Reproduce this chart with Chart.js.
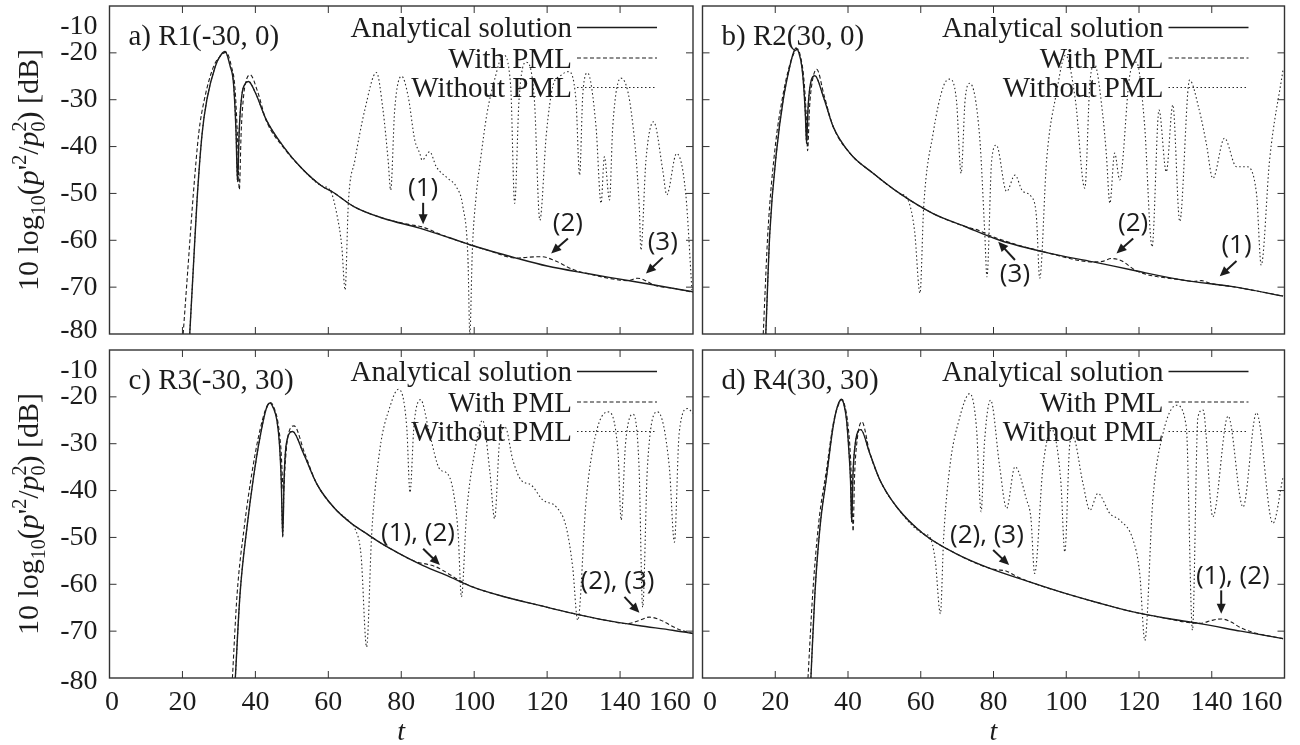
<!DOCTYPE html>
<html>
<head>
<meta charset="utf-8">
<script src="https://cdn.jsdelivr.net/npm/chart.js@4.4.0/dist/chart.umd.min.js"></script>
<style>
  html, body { margin: 0; padding: 0; background: #fff; }
  #wrap { position: relative; width: 1300px; height: 745px; background: #fff; }
  #wrap canvas { position: absolute; }
</style>
</head>
<body>
<div id="wrap">
  <canvas id="pa" width="698" height="342" style="left:0;top:0"></canvas>
  <canvas id="pb" width="602" height="342" style="left:698px;top:0"></canvas>
  <canvas id="pc" width="698" height="403" style="left:0;top:342px"></canvas>
  <canvas id="pd" width="602" height="403" style="left:698px;top:342px"></canvas>
</div>
<script>
// sound pressure level at four receivers: analytical vs. FDTD with / without PML

const xTicks = [0, 20, 40, 60, 80, 100, 120, 140, 160];
const yTicks = [-10, -20, -30, -40, -50, -60, -70, -80];
const titles = ['a) R1(-30, 0)', 'b) R2(30, 0)', 'c) R3(-30, 30)', 'd) R4(30, 30)'];
const seriesNames = ['Analytical solution', 'With PML', 'Without PML'];

// --- R1(-30, 0)
const r1AnaT = [22, 23, 24, 25.4, 26.7, 29, 30.5, 31.7, 33.1, 34, 34.7, 35.1, 35.6, 36.3, 37.2, 38.1, 40, 43, 47.7, 52.3, 58, 61.4, 67, 75, 85, 93, 99, 112, 120, 131, 140, 149, 160];
const r1AnaV = [-80, -65.7, -51.5, -37.2, -30, -22.9, -20.5, -19.7, -22.9, -26.5, -37, -47.5, -36, -29, -26.6, -26.1, -28.5, -34.3, -40, -44.3, -48.3, -49.8, -52.8, -55.3, -57.4, -59.4, -61, -63.9, -65.5, -67.1, -68.3, -69.5, -71];
const r1PmlT = [20.2, 21.5, 23, 24.5, 26, 28.5, 30.5, 32, 33.4, 34.4, 35.1, 35.6, 36.1, 36.8, 37.6, 38.6, 40.5, 43, 47.7, 52.3, 58, 61.4, 67, 75, 82, 86, 90, 93, 99, 104, 111.5, 115, 118.4, 122, 127, 131, 140, 142, 144.8, 147.5, 149, 155, 160];
const r1PmlV = [-80, -66, -50, -37, -30, -23, -20.6, -19.9, -22.8, -27.5, -38, -49.2, -37, -29, -25.6, -24.7, -28, -34.5, -40.2, -44.3, -48.3, -49.8, -52.8, -55.3, -56.6, -57.2, -58.5, -59.4, -61, -62.2, -63.8, -63.6, -63.5, -64.3, -66.2, -67.1, -68.5, -68.6, -68.1, -68.8, -69.5, -70.3, -71.1];
const r1NoT = [22, 23, 24, 25.4, 26.7, 29, 30.5, 31.7, 33.1, 34, 34.7, 35.1, 35.6, 36.3, 37.2, 38.1, 40, 43, 47.7, 52.3, 58, 60.5, 62.3, 63.7, 64.6, 65.5, 67.3, 70, 73.2, 75, 76.4, 77.1, 78.2, 80.1, 81.9, 83.7, 85.1, 85.7, 87.8, 89.6, 92.8, 95.1, 96.9, 98.3, 98.8, 99.5, 100.6, 101.7, 103.5, 105.5, 108, 110, 111.1, 112.3, 114.2, 116.5, 118, 119.8, 121.6, 123.5, 125.8, 127.9, 128.9, 129.8, 131.1, 133.4, 134.8, 135.7, 137.1, 138, 140.2, 143, 145.3, 145.7, 147.1, 149.2, 151.7, 152.8, 155.5, 158, 159.7];
const r1NoV = [-80, -65.7, -51.5, -37.2, -30, -22.9, -20.5, -19.7, -22.9, -26.5, -37, -47.5, -36, -29, -26.6, -26.1, -28.5, -34.3, -40, -44.3, -48.3, -49.3, -54.3, -61.4, -70.6, -52, -42.9, -32.2, -24.2, -32.2, -42.9, -49.3, -32.2, -25, -29.3, -38.6, -41.5, -42.9, -41.1, -44.3, -46.8, -48.6, -52.8, -64.2, -80, -62, -50, -43, -33, -26, -20.5, -27, -52.1, -30, -22, -30, -55.7, -37.2, -27, -25, -24, -30, -46.1, -28.6, -24.3, -35.7, -52.1, -42.2, -51.4, -35.7, -25.4, -32.2, -53.5, -62.1, -42.9, -34.7, -45, -50.3, -41.5, -50, -70.6];

// --- R2(30, 0)
const r2AnaT = [17.4, 18.5, 20.4, 22.2, 24, 25, 25.7, 26.5, 27.3, 27.9, 28.3, 28.6, 29, 29.6, 30.9, 33.2, 35.9, 40.5, 46.9, 54.2, 63.4, 72, 81.7, 95.5, 107.4, 118.4, 132.1, 145.8, 159.6];
const r2AnaV = [-80, -58.5, -40.7, -30, -22.9, -20, -19, -20, -22.9, -28, -33.5, -39.3, -32, -27, -24.9, -29.3, -35.7, -41.4, -45.7, -50, -54.3, -57, -60, -62.8, -64.6, -66.4, -68.5, -69.9, -71.9];
const r2PmlT = [16.7, 18, 20, 22, 24, 25.5, 26.2, 27, 27.8, 28.5, 28.9, 29.4, 30, 31.4, 33.4, 36, 40.5, 46.9, 54.2, 63.4, 72, 76, 80, 95.5, 107.4, 110, 112.4, 115, 119.5, 132.1, 135, 137.2, 139.5, 145.8, 159.6];
const r2PmlV = [-80, -58, -40, -29.5, -22.5, -19.6, -19.2, -21, -25, -33, -40.9, -32, -27, -23.5, -29, -35.9, -41.4, -45.7, -50, -54.3, -57, -57.9, -59.3, -62.8, -64.6, -64.5, -63.9, -64.3, -66.6, -68.5, -68.8, -68.6, -69.2, -69.9, -71.9];
const r2NoT = [17.4, 18.5, 20.4, 22.2, 24, 25, 25.7, 26.5, 27.3, 27.9, 28.3, 28.6, 29, 29.6, 30.9, 33.2, 35.9, 40.5, 46.9, 54.2, 56.5, 58.3, 59.8, 60.8, 63.4, 66.2, 67.9, 69.8, 71.1, 72.2, 73.5, 76.2, 77.6, 78.2, 79.5, 80.8, 83.6, 85.9, 88, 90.4, 91.8, 92.7, 94.6, 97.3, 99.8, 102.5, 105.1, 106.5, 107.8, 110, 111, 112, 113.3, 114.7, 117.4, 119.3, 121.5, 123.6, 125.5, 127.5, 129.3, 131.2, 133.9, 136.5, 138.5, 140.3, 143.5, 146.8, 149.5, 152.3, 153.6, 155.9, 159.6];
const r2NoV = [-80, -58.5, -40.7, -30, -22.9, -20, -19, -20, -22.9, -28, -33.5, -39.3, -32, -27, -24.9, -29.3, -35.7, -41.4, -45.7, -50, -51.4, -58, -71.3, -53, -37.2, -27.2, -25.6, -30, -45.7, -30, -26.5, -38, -58.5, -67.8, -42.9, -39.7, -49.6, -46.1, -49.5, -50.7, -55, -68.1, -42.9, -28.6, -20.5, -30, -48.9, -26.5, -22.5, -33, -41.4, -52.1, -41.4, -47.1, -25.1, -22, -35, -61.4, -32.2, -45.4, -31.1, -56, -25.8, -32, -39.3, -46.8, -38.2, -44.3, -44.3, -50, -65.3, -42.9, -23.6];

// --- R3(-30, 30)
const r3AnaT = [34.5, 35.8, 37.7, 39.5, 41.3, 43, 44, 45, 45.9, 46.6, 47.1, 47.5, 47.9, 48.5, 50.2, 53.2, 56.8, 61.4, 66, 70.5, 75, 79.6, 86, 93.3, 99.7, 108, 117.9, 127, 136.2, 145, 154.4, 160];
const r3AnaV = [-80, -62, -47.8, -37.1, -28.5, -22.5, -21.3, -22.5, -25, -30, -38, -49.9, -37, -30, -27.4, -32.1, -38.5, -43.5, -46.8, -49.2, -51.5, -53.5, -56, -58.4, -60.6, -62.6, -64.5, -66.2, -67.7, -68.8, -69.8, -70.5];
const r3PmlT = [33.7, 35, 37, 39, 41, 43, 44.2, 45.2, 46.2, 47, 47.7, 48.2, 48.8, 50.6, 53.5, 56.8, 61.4, 66, 70.5, 75, 79.6, 84, 87, 89.6, 92, 96, 99.7, 108, 117.9, 127, 136.2, 142, 145, 148, 151, 156, 160];
const r3PmlV = [-80, -62, -47.5, -36.5, -28, -22.3, -21.2, -22.5, -25.5, -31, -40, -34, -29, -26.2, -32, -38.5, -43.5, -46.8, -49.2, -51.5, -53.5, -55.2, -55.7, -56.3, -57.3, -59.2, -60.6, -62.6, -64.5, -66.2, -67.7, -68.4, -67.8, -67, -67.6, -69.6, -70.5];
const r3NoT = [34.5, 35.8, 37.7, 39.5, 41.3, 43, 44, 45, 45.9, 46.6, 47.1, 47.5, 47.9, 48.5, 50.2, 53.2, 56.8, 61.4, 66, 67.3, 69, 70.5, 71.9, 74.1, 76.9, 79.2, 81.5, 82.4, 83.5, 85.3, 87.8, 90.6, 92.4, 94.2, 95.6, 96.5, 97.9, 100.2, 102.3, 104.3, 105.6, 107, 108.5, 110.6, 112.9, 115.6, 118.8, 122.5, 125.2, 127, 128.4, 130.7, 133.4, 136.6, 139.4, 140.3, 141.5, 143.5, 145.2, 146.2, 147.5, 150.3, 153.5, 154.9, 156.2, 158.5, 160];
const r3NoV = [-80, -62, -47.8, -37.1, -28.5, -22.5, -21.3, -22.5, -25, -30, -38, -49.9, -37, -30, -27.4, -32.1, -38.5, -43.5, -46.8, -48.1, -54, -73.4, -49.2, -31.4, -22.1, -18.4, -26.4, -40.4, -26, -20.6, -28, -35.5, -36.2, -39.9, -49.2, -62.7, -45, -31.5, -25, -36, -46, -29.2, -26.5, -33.5, -37.8, -38.8, -42, -43.5, -47.7, -56.3, -67.7, -42, -27.8, -23.2, -31.4, -46.3, -30, -23.7, -34.9, -64.9, -35, -23.2, -34.9, -51, -27.8, -22.5, -23.5];

// --- R4(30, 30)
const r4AnaT = [29.8, 30.9, 32.3, 34.1, 35.9, 37.2, 38.2, 39, 39.6, 40.2, 40.7, 41, 41.4, 42, 43.5, 46, 48.8, 53.4, 60.7, 69.8, 79, 90, 100, 109, 118.4, 127, 136.7, 148, 159.6];
const r4AnaV = [-80, -62, -47.8, -37.1, -26.4, -21.8, -20.5, -22, -25, -31, -38, -46.7, -36, -30, -27, -32.1, -37.8, -43.5, -49.2, -53.5, -56.6, -59.5, -62, -64, -65.9, -67.2, -68.4, -70, -71.6];
const r4PmlT = [29, 30.3, 32, 34, 36, 37.5, 38.4, 39.3, 40, 40.7, 41.1, 41.4, 41.8, 42.4, 43.8, 46, 48.8, 53.4, 60.7, 69.8, 79, 81, 83.6, 86, 90, 100, 109, 118.4, 127, 134, 137, 140, 142.6, 145, 148, 151, 159.6];
const r4PmlV = [-80, -62, -46.5, -36, -25.5, -21.5, -20.6, -22.5, -26, -33, -41, -48.7, -37, -30, -25.3, -32, -37.8, -43.5, -49.2, -53.5, -56.6, -56.9, -57.2, -58.2, -59.5, -62, -64, -65.9, -67.2, -68.2, -68.3, -67.7, -67.4, -67.9, -69.3, -70.2, -71.6];
const r4NoT = [29.8, 30.9, 32.3, 34.1, 35.9, 37.2, 38.2, 39, 39.6, 40.2, 40.7, 41, 41.4, 42, 43.5, 46, 48.8, 53.4, 60.7, 62.5, 64, 65.4, 66.3, 68, 70.5, 73.5, 75.3, 76.6, 77.5, 79.2, 81.7, 83.6, 85.9, 89.1, 90.3, 91.3, 93.6, 96, 98.5, 99.6, 101, 101.8, 104.6, 106.5, 108.7, 112, 114.7, 118.4, 120.2, 121.6, 123.8, 126.6, 130.3, 133, 134.7, 136.2, 137.6, 140.3, 144.5, 148.6, 152.3, 156.8, 159.6];
const r4NoV = [-80, -62, -47.8, -37.1, -26.4, -21.8, -20.5, -22, -25, -31, -38, -46.7, -36, -30, -27, -32.1, -37.8, -43.5, -49.2, -49.9, -55, -66.3, -50, -34.9, -25, -19.3, -26.4, -44.5, -30, -20.7, -34.9, -43.8, -34.9, -42, -46, -57.7, -34.9, -27, -38, -53.1, -29.9, -28.5, -38.5, -44.2, -40.6, -44.9, -46.3, -50.6, -57.7, -72, -42, -27.8, -21.8, -26.4, -69.8, -24.3, -22.8, -45.6, -24.1, -43.5, -23.4, -47, -37.1];

// numbered callouts (t, dB): label centre, arrow tail, arrow head
const r1Notes = ['(1)', '(2)', '(3)'];
const r1NoteAt = [[86, -48.9], [125.7, -56.4], [151.7, -60.5]];
const r1ArrowFrom = [[86, -52], [125.7, -59.6], [151.7, -63.7]];
const r1ArrowTo = [[86, -56.6], [121.1, -62.8], [147.1, -67.1]];
const r2Notes = ['(3)', '(2)', '(1)'];
const r2NoteAt = [[85.9, -67.4], [118.4, -56.4], [146.8, -61.2]];
const r2ArrowFrom = [[85.9, -64.2], [118.4, -59.6], [146.8, -64.4]];
const r2ArrowTo = [[81.3, -60.3], [113.8, -62.8], [142.2, -67.7]];
const r3Notes = ['(1), (2)', '(2), (3)'];
const r3NoteAt = [[84.6, -49.2], [139.3, -59.5]];
const r3ArrowFrom = [[86, -52.4], [141.2, -62.7]];
const r3ArrowTo = [[90.6, -55.9], [145.3, -66.1]];
const r4Notes = ['(2), (3)', '(1), (2)'];
const r4NoteAt = [[78.2, -49.7], [145.8, -58.4]];
const r4ArrowFrom = [[79.9, -52.7], [142.6, -61.3]];
const r4ArrowTo = [[84.3, -55.9], [142.6, -66.3]];

const SERIF = '"Liberation Serif", "Times New Roman", serif';
const SANS = '"Open Sans", "Noto Sans", sans-serif';
const INK = '#1c1c1c';

const styles = [
  { borderWidth: 1.4, borderDash: [] },
  { borderWidth: 1.1, borderDash: [4, 2.5] },
  { borderWidth: 1.1, borderDash: [1.5, 2.5] },
];

const pts = (T, V) => T.map((t, i) => ({ x: t, y: V[i] }));

function drawArrow(ctx, x0, y0, x1, y1) {
  const a = Math.atan2(y1 - y0, x1 - x0), L = 10, W = 4.5;
  ctx.beginPath();
  ctx.moveTo(x0, y0);
  ctx.lineTo(x1 - (L - 2) * Math.cos(a), y1 - (L - 2) * Math.sin(a));
  ctx.stroke();
  ctx.beginPath();
  ctx.moveTo(x1, y1);
  ctx.lineTo(x1 - L * Math.cos(a) + W * Math.sin(a), y1 - L * Math.sin(a) - W * Math.cos(a));
  ctx.lineTo(x1 - L * Math.cos(a) - W * Math.sin(a), y1 - L * Math.sin(a) + W * Math.cos(a));
  ctx.closePath();
  ctx.fill();
}

// 10 log10(p'^2/p0^2) [dB], rotated, built from pieces
function drawYTitle(ctx, bx, cy) {
  const big = '30px ' + SERIF, small = '20px ' + SERIF, it = 'italic 30px ' + SERIF;
  const parts = [
    { s: '10 log', f: big, dy: 0 },
    { s: '10', f: small, dy: 7 },
    { s: '(', f: big, dy: 0 },
    { s: 'p', f: it, dy: 0 },
    { s: "'", f: big, dy: 0 },
    { s: '2', f: small, dy: -12 },
    { s: '/', f: big, dy: 0 },
    { s: 'p', f: it, dy: 0 },
    { s: '0', f: small, dy: 7, hold: true },
    { s: '2', f: small, dy: -12 },
    { s: ') [dB]', f: big, dy: 0 },
  ];
  ctx.save();
  ctx.translate(bx, cy);
  ctx.rotate(-Math.PI / 2);
  let total = 0;
  parts.forEach(p => { ctx.font = p.f; if (!p.hold) total += ctx.measureText(p.s).width; });
  let x = -total / 2;
  ctx.textAlign = 'left';
  ctx.textBaseline = 'alphabetic';
  parts.forEach(p => {
    ctx.font = p.f;
    ctx.fillText(p.s, x, p.dy);
    if (!p.hold) x += ctx.measureText(p.s).width;
  });
  ctx.restore();
}

function framePlugin(p) {
  return {
    id: 'panelFrame',
    afterDatasetsDraw(chart) {
      const { ctx, chartArea: a, scales: { x, y } } = chart;
      ctx.save();
      ctx.strokeStyle = '#333';
      ctx.fillStyle = INK;
      ctx.setLineDash([]);

      // box + inward ticks on all four sides
      ctx.lineWidth = 1.4;
      ctx.strokeRect(a.left, a.top, a.right - a.left, a.bottom - a.top);
      ctx.lineWidth = 1;
      ctx.beginPath();
      xTicks.slice(1, -1).forEach(v => {
        const px = x.getPixelForValue(v);
        ctx.moveTo(px, a.bottom); ctx.lineTo(px, a.bottom - 7);
        ctx.moveTo(px, a.top); ctx.lineTo(px, a.top + 7);
      });
      yTicks.slice(1, -1).forEach(v => {
        const py = y.getPixelForValue(v);
        ctx.moveTo(a.left, py); ctx.lineTo(a.left + 7, py);
        ctx.moveTo(a.right, py); ctx.lineTo(a.right - 7, py);
      });
      ctx.stroke();

      // y tick labels + title (left column only)
      if (p.left) {
        ctx.font = '28px ' + SERIF;
        ctx.textAlign = 'right';
        ctx.textBaseline = 'middle';
        yTicks.forEach(v => {
          let nudge = 0;
          if (v === -10) nudge = 21;
          if (v === -80) nudge = p.bottom ? 4 : -3;
          ctx.fillText(String(v), a.left - 12, y.getPixelForValue(v) + nudge);
        });
        drawYTitle(ctx, 38, (a.top + a.bottom) / 2);
      }

      // x tick labels + title (bottom row only)
      if (p.bottom) {
        ctx.font = '28px ' + SERIF;
        ctx.textBaseline = 'alphabetic';
        xTicks.forEach(v => {
          if (v === 160) {
            ctx.textAlign = 'right';
            ctx.fillText(String(v), a.right - 2, a.bottom + 32);
          } else {
            ctx.textAlign = 'center';
            const shift = v === 0 ? (p.left ? 2.5 : 7.5) : 0;
            ctx.fillText(String(v), x.getPixelForValue(v) + shift, a.bottom + 32);
          }
        });
        ctx.font = 'italic 28px ' + SERIF;
        ctx.textAlign = 'center';
        ctx.fillText('t', x.getPixelForValue(80), a.bottom + 62);
      }

      // panel title
      ctx.font = '29px ' + SERIF;
      ctx.textAlign = 'left';
      ctx.textBaseline = 'alphabetic';
      ctx.fillText(p.title, a.left + 19, a.top + 39);

      // key: text right-aligned, line sample to its right
      const rows = [21.5, 52, 81.5];
      chart.data.datasets.forEach((ds, i) => {
        const ly = a.top + rows[i];
        ctx.font = '29px ' + SERIF;
        ctx.textAlign = 'right';
        ctx.fillText(ds.label, a.right - 121, ly + 9.5);
        ctx.save();
        ctx.strokeStyle = ds.borderColor;
        ctx.lineWidth = ds.borderWidth;
        ctx.setLineDash(ds.borderDash);
        ctx.beginPath();
        ctx.moveTo(a.right - 116, ly);
        ctx.lineTo(a.right - 36, ly);
        ctx.stroke();
        ctx.restore();
      });

      // callouts
      ctx.font = '26px ' + SANS;
      ctx.textAlign = 'center';
      ctx.textBaseline = 'middle';
      ctx.strokeStyle = INK;
      ctx.lineWidth = 2;
      p.notes.forEach((txt, i) => {
        const [lt, lv] = p.noteAt[i];
        ctx.fillText(txt, x.getPixelForValue(lt), y.getPixelForValue(lv));
        const [t0, v0] = p.from[i], [t1, v1] = p.to[i];
        drawArrow(ctx, x.getPixelForValue(t0), y.getPixelForValue(v0),
                       x.getPixelForValue(t1), y.getPixelForValue(v1));
      });
      ctx.restore();
    }
  };
}

const panels = [
  { id: 'pa', title: titles[0], left: true, bottom: false, pad: { left: 109.5, right: 5, top: 6, bottom: 8 },
    T: [r1AnaT, r1PmlT, r1NoT], V: [r1AnaV, r1PmlV, r1NoV],
    notes: r1Notes, noteAt: r1NoteAt, from: r1ArrowFrom, to: r1ArrowTo },
  { id: 'pb', title: titles[1], left: false, bottom: false, pad: { left: 4.5, right: 15.5, top: 6, bottom: 8 },
    T: [r2AnaT, r2PmlT, r2NoT], V: [r2AnaV, r2PmlV, r2NoV],
    notes: r2Notes, noteAt: r2NoteAt, from: r2ArrowFrom, to: r2ArrowTo },
  { id: 'pc', title: titles[2], left: true, bottom: true, pad: { left: 109.5, right: 5, top: 8, bottom: 67 },
    T: [r3AnaT, r3PmlT, r3NoT], V: [r3AnaV, r3PmlV, r3NoV],
    notes: r3Notes, noteAt: r3NoteAt, from: r3ArrowFrom, to: r3ArrowTo },
  { id: 'pd', title: titles[3], left: false, bottom: true, pad: { left: 4.5, right: 15.5, top: 8, bottom: 67 },
    T: [r4AnaT, r4PmlT, r4NoT], V: [r4AnaV, r4PmlV, r4NoV],
    notes: r4Notes, noteAt: r4NoteAt, from: r4ArrowFrom, to: r4ArrowTo },
];

panels.forEach(p => {
  new Chart(document.getElementById(p.id), {
    type: 'line',
    data: {
      datasets: seriesNames.map((name, i) => ({
        label: name,
        data: pts(p.T[i], p.V[i]),
        borderColor: i === 2 ? '#2a2a2a' : INK,
        borderWidth: styles[i].borderWidth,
        borderDash: styles[i].borderDash,
        cubicInterpolationMode: 'monotone',
        pointRadius: 0,
        fill: false,
      }))
    },
    plugins: [framePlugin(p)],
    options: {
      responsive: false,
      animation: false,
      devicePixelRatio: 1,
      layout: { padding: p.pad },
      plugins: { legend: { display: false }, tooltip: { enabled: false } },
      scales: {
        x: { type: 'linear', min: 0, max: 160, display: false },
        y: { type: 'linear', min: -80, max: -10, display: false }
      }
    }
  });
});
</script>
</body>
</html>
